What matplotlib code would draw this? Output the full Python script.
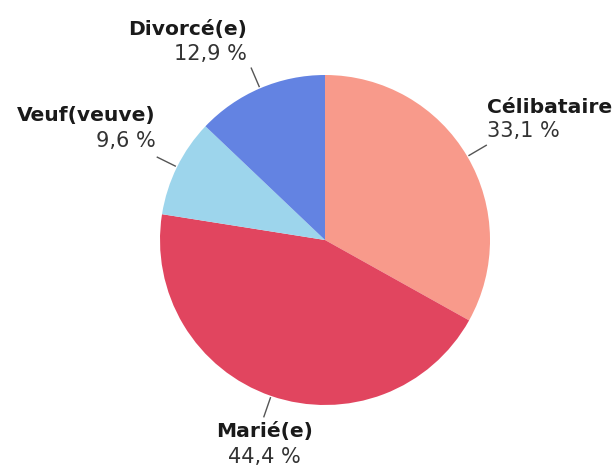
import numpy as np
import matplotlib.pyplot as plt

# data
categories = ["Célibataire", "Marié(e)", "Veuf(veuve)", "Divorcé(e)"]
shares = [33.1, 44.4, 9.6, 12.9]
value_labels = ["33,1 %", "44,4 %", "9,6 %", "12,9 %"]
colors = ["#F89A8B", "#E1455F", "#9DD5EC", "#6383E2"]

# label placement relative to the outer end of each leader line (pixels)
# (dx, baseline dy of name, baseline dy of value, horizontal alignment)
label_offsets = [
    (1, 32, 8, "left"),
    (1, -20, -46, "center"),
    (-2, 36, 10, "right"),
    (-4, 33, 8, "right"),
]

W, H = 614, 466
fig = plt.figure(figsize=(W / 100, H / 100), dpi=100)
ax = fig.add_axes([0, 0, 1, 1])

cx, cy, r = 325, 226, 165
wedges, _ = ax.pie(shares, colors=colors, startangle=90, counterclock=False,
                   center=(cx, cy), radius=r,
                   wedgeprops=dict(linewidth=0))

ax.set_xlim(0, W)
ax.set_ylim(0, H)
ax.set_aspect("equal")
ax.axis("off")

for w, name, val, (dx, dy1, dy2, ha) in zip(wedges, categories, value_labels, label_offsets):
    theta = np.deg2rad((w.theta1 + w.theta2) / 2)
    x0, y0 = cx + (r + 2) * np.cos(theta), cy + (r + 2) * np.sin(theta)
    x1, y1 = cx + (r + 22) * np.cos(theta), cy + (r + 22) * np.sin(theta)
    ax.plot([x0, x1], [y0, y1], color="#555555", lw=1)
    ax.text(x1 + dx, y1 + dy1, name, ha=ha, va="baseline", fontsize=14.6,
            fontweight="bold", color="#1a1a1a")
    ax.text(x1 + dx, y1 + dy2, val, ha=ha, va="baseline", fontsize=15,
            color="#333333")

fig.savefig("out.png", dpi=100)
